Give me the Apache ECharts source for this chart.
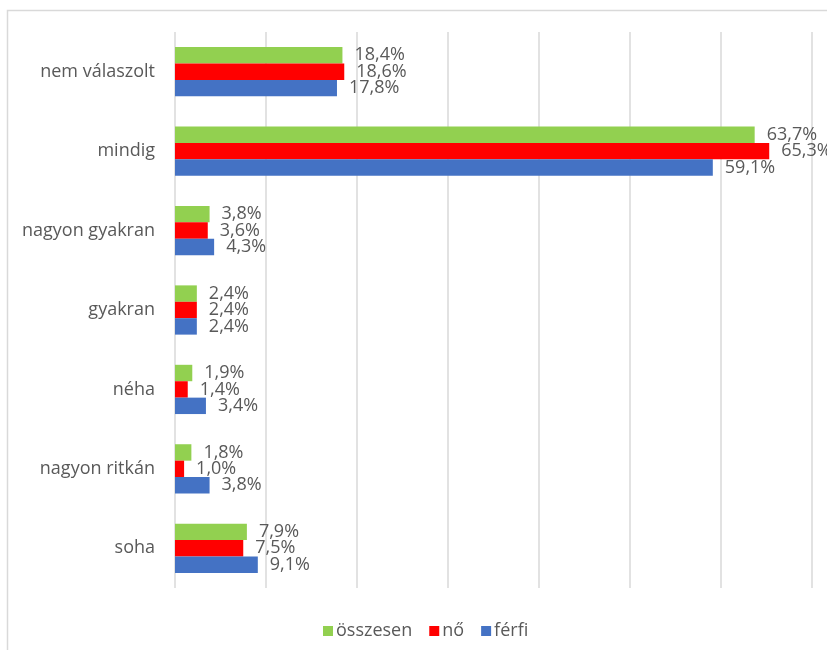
<!DOCTYPE html>
<html>
<head>
<meta charset="utf-8">
<script src="https://cdn.jsdelivr.net/npm/echarts@6/dist/echarts.min.js"></script>
<style>
  html, body { margin: 0; padding: 0; background: #ffffff; }
  #chart { width: 827px; height: 650px; }
</style>
</head>
<body>
<div id="chart"></div>
<script>
// Answer categories, top to bottom
const categories = ['nem válaszolt', 'mindig', 'nagyon gyakran', 'gyakran', 'néha', 'nagyon ritkán', 'soha'];

// Shares in percent per group
const osszesen = [18.4, 63.7, 3.8, 2.4, 1.9, 1.8, 7.9];
const no = [18.6, 65.3, 3.6, 2.4, 1.4, 1.0, 7.5];
const ferfi = [17.8, 59.1, 4.3, 2.4, 3.4, 3.8, 9.1];

const seriesNames = ['összesen', 'nő', 'férfi'];
const seriesColors = ['#92D050', '#FF0000', '#4472C4'];
const seriesData = [osszesen, no, ferfi];

const FONT = '"Open Sans", sans-serif';
const TEXT = '#595959';
const SIZE = 18;

const fmt = v => v.toFixed(1).replace('.', ',') + '%';

const chart = echarts.init(document.getElementById('chart'), null, { renderer: 'canvas' });

chart.setOption({
  backgroundColor: '#ffffff',
  animation: false,
  graphic: [{
    type: 'rect',
    shape: { x: 7.5, y: 10.5, width: 900, height: 700 },
    style: { fill: 'none', stroke: '#D9D9D9', lineWidth: 1.5 },
    silent: true
  }],
  grid: { left: 175, right: 15, top: 32, bottom: 62, containLabel: false },
  legend: {
    data: seriesNames,
    left: 318,
    top: 617,
    itemWidth: 10,
    itemHeight: 10,
    itemGap: 17,
    icon: 'rect',
    textStyle: { color: TEXT, fontFamily: FONT, fontSize: SIZE, padding: [0, 0, 0, -2] }
  },
  xAxis: {
    type: 'value',
    min: 0,
    max: 70,
    interval: 10,
    axisLabel: { show: false },
    axisLine: { show: false },
    axisTick: { show: false },
    splitLine: { show: true, lineStyle: { color: '#D9D9D9', width: 1.5 } }
  },
  yAxis: {
    type: 'category',
    data: categories,
    inverse: true,
    axisLine: { show: false },
    axisTick: { show: false },
    axisLabel: { color: TEXT, fontFamily: FONT, fontSize: SIZE, margin: 20 }
  },
  series: seriesNames.map((name, i) => ({
    name: name,
    type: 'bar',
    data: seriesData[i],
    barGap: '0%',
    barCategoryGap: '38%',
    itemStyle: { color: seriesColors[i] },
    label: {
      show: true,
      position: 'right',
      distance: 12,
      color: TEXT,
      fontFamily: FONT,
      fontSize: SIZE,
      formatter: p => fmt(p.value)
    }
  }))
});
</script>
</body>
</html>
